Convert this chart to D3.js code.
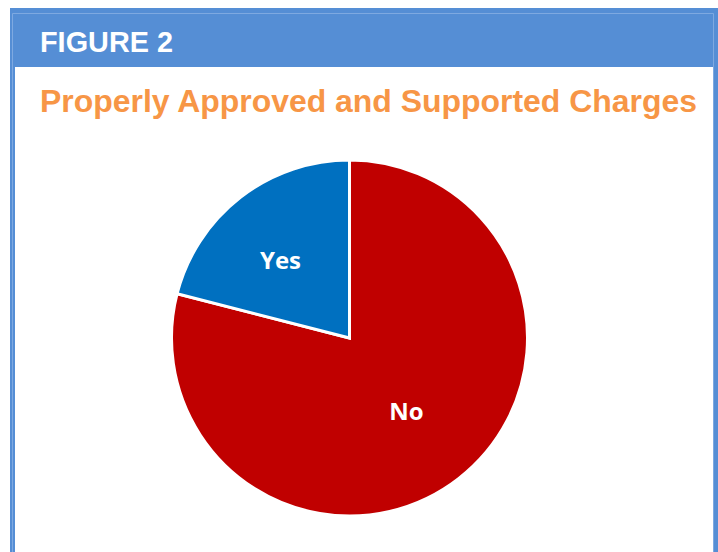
<!DOCTYPE html>
<html><head><meta charset="utf-8">
<script src="https://cdn.jsdelivr.net/npm/d3@7"></script>
<style>html,body{margin:0;padding:0;background:#fff;overflow:hidden}</style>
</head><body>
<script>
const categories = ["No", "Yes"];
const values = [79, 21];
const colors = ["#C00000", "#0070C0"];
const figureLabel = "FIGURE 2";
const title = "Properly Approved and Supported Charges";

const W = 718, H = 552;
const svg = d3.select("body").append("svg").attr("width", W).attr("height", H);

// frame
svg.append("rect").attr("x", 10).attr("y", 8).attr("width", 708).attr("height", 560).attr("fill", "#558ED5");
svg.append("rect").attr("x", 15).attr("y", 67).attr("width", 698).attr("height", 500).attr("fill", "#fff");
svg.append("path").attr("d", "M12.5,568V13.5H713.5V568").attr("fill", "none").attr("stroke", "#7EA9E1").attr("stroke-width", 1);
svg.append("rect").attr("x", 13).attr("y", 14).attr("width", 700).attr("height", 53).attr("fill", "#558ED5");

svg.append("text").attr("x", 40).attr("y", 52)
  .attr("font-family", "Liberation Sans, Arial, sans-serif").attr("font-weight", "bold")
  .attr("font-size", 30).attr("fill", "#fff").attr("textLength", 133).attr("lengthAdjust", "spacingAndGlyphs")
  .text(figureLabel);

svg.append("text").attr("x", 40).attr("y", 112)
  .attr("font-family", "Liberation Sans, Arial, sans-serif").attr("font-weight", "bold")
  .attr("font-size", 31).attr("fill", "#F79646").attr("textLength", 657).attr("lengthAdjust", "spacingAndGlyphs")
  .text(title);

const cx = 349.5, cy = 338, R = 178;
const pie = d3.pie().sort(null).value(d => d.v);
const data = pie(categories.map((c, i) => ({c, v: values[i], col: colors[i]})));
const arc = d3.arc().innerRadius(0).outerRadius(R);
const labelArc = d3.arc().innerRadius(R * 0.55).outerRadius(R * 0.55);

const g = svg.append("g").attr("transform", `translate(${cx},${cy})`);
g.selectAll("path.slice").data(data).join("path")
  .attr("class", "slice").attr("d", arc).attr("fill", d => d.data.col)
  .attr("stroke", "#fff").attr("stroke-width", 3).attr("stroke-linejoin", "miter");

g.selectAll("text.lbl").data(data).join("text")
  .attr("class", "lbl")
  .attr("transform", d => {
    const [x, y] = labelArc.centroid(d);
    const nudge = d.data.c === "Yes" ? -9 : -3;
    return `translate(${x + nudge},${y + (d.data.c === "Yes" ? 0 : -4)})`;
  })
  .attr("text-anchor", "middle").attr("dy", "0.36em")
  .attr("font-family", "Open Sans, Lato, sans-serif").attr("font-weight", "bold")
  .attr("font-size", 24).attr("fill", "#fff")
  .text(d => d.data.c);
</script>
</body></html>
